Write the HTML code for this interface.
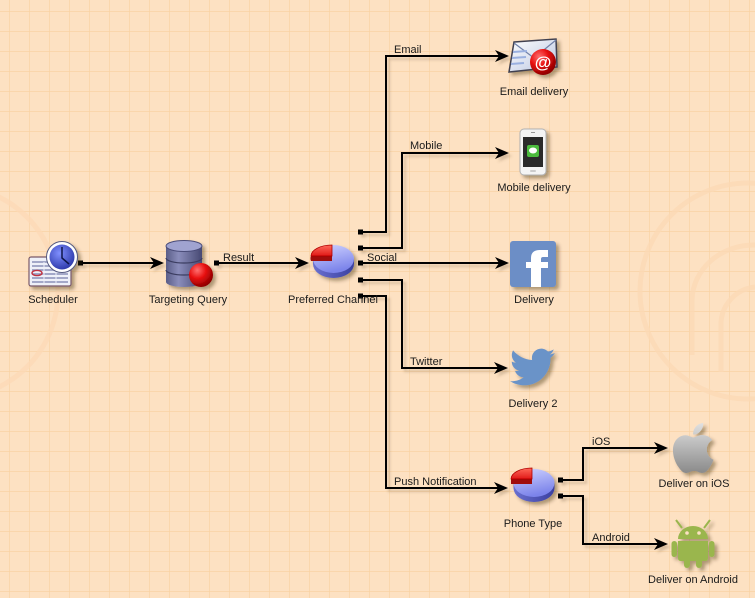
<!DOCTYPE html>
<html><head><meta charset="utf-8"><style>
html,body{margin:0;padding:0;background:#fde1c2;}
svg{display:block;}
text{font-family:"Liberation Sans",Arial,sans-serif;font-size:11px;fill:#1a1a1a;}
</style></head><body>
<svg width="755" height="598" viewBox="0 0 755 598" xmlns="http://www.w3.org/2000/svg">
<defs>
<pattern id="grid" x="9" y="11" width="20" height="20" patternUnits="userSpaceOnUse">
<path d="M0 0 H20 M0 0 V20" stroke="#f8d09f" stroke-width="1.2" fill="none"/>
</pattern>
<filter id="sh" x="-30%" y="-30%" width="160%" height="160%">
<feDropShadow dx="3" dy="3" stdDeviation="1.8" flood-color="#3a2a10" flood-opacity="0.4"/>
</filter>
<filter id="lsh" x="-10%" y="-10%" width="120%" height="120%">
<feDropShadow dx="3" dy="3" stdDeviation="1.2" flood-color="#6a5030" flood-opacity="0.25"/>
</filter>
<linearGradient id="pieTop" x1="0" y1="0" x2="0.3" y2="1"><stop offset="0" stop-color="#d0d3ff"/><stop offset="1" stop-color="#7c84ea"/></linearGradient>
<linearGradient id="pieSide" x1="0" y1="0" x2="1" y2="0"><stop offset="0" stop-color="#6a70d0"/><stop offset="1" stop-color="#3a40a0"/></linearGradient>
<linearGradient id="redTop" x1="0" y1="0" x2="0" y2="1"><stop offset="0" stop-color="#ff6a5a"/><stop offset="1" stop-color="#e01818"/></linearGradient>
<linearGradient id="cyl" x1="0" y1="0" x2="1" y2="0"><stop offset="0" stop-color="#5a5d88"/><stop offset="0.35" stop-color="#8a8dbb"/><stop offset="1" stop-color="#464872"/></linearGradient>
<radialGradient id="ball" cx="0.35" cy="0.3" r="0.7"><stop offset="0" stop-color="#ff7070"/><stop offset="0.5" stop-color="#e81010"/><stop offset="1" stop-color="#900000"/></radialGradient>
<radialGradient id="clock" cx="0.4" cy="0.35" r="0.7"><stop offset="0" stop-color="#8090ff"/><stop offset="1" stop-color="#2a36a8"/></radialGradient>
<linearGradient id="apple" x1="0" y1="0" x2="0" y2="1"><stop offset="0" stop-color="#e0e0e0"/><stop offset="1" stop-color="#8a8a8a"/></linearGradient>
<linearGradient id="env" x1="0" y1="0" x2="1" y2="1"><stop offset="0" stop-color="#ffffff"/><stop offset="1" stop-color="#b8c4e0"/></linearGradient>
</defs>
<rect width="755" height="598" fill="#fde1c2"/>
<rect width="755" height="598" fill="url(#grid)"/>

<!-- watermark -->
<g fill="none" stroke="#fcd9b5" stroke-width="5" opacity="0.7">
<circle cx="748" cy="291" r="108"/>
<path d="M692 355 V300 A62 56 0 0 1 755 245"/>
<path d="M721 372 V322 A38 38 0 0 1 755 287"/>
<circle cx="-48" cy="292" r="106"/>
</g>

<!-- connectors -->
<g filter="url(#lsh)">
<g fill="none" stroke="#000" stroke-width="2">
<path d="M81 263 H154"/>
<path d="M217 263 H299"/>
<path d="M361 232 H386 V56 H499"/>
<path d="M361 248 H402 V153 H499"/>
<path d="M361 263 H499"/>
<path d="M361 280 H402 V368 H498"/>
<path d="M361 296 H386 V488 H498"/>
<path d="M561 480 H583 V448 H658"/>
<path d="M561 496 H583 V544 H658"/>
</g>
<g fill="#000">
<polygon points="164,263 150,257 154,263 150,269"/>
<polygon points="309,263 295,257 299,263 295,269"/>
<polygon points="509,56 495,50 499,56 495,62"/>
<polygon points="509,153 495,147 499,153 495,159"/>
<polygon points="509,263 495,257 499,263 495,269"/>
<polygon points="508,368 494,362 498,368 494,374"/>
<polygon points="508,488 494,482 498,488 494,494"/>
<polygon points="668,448 654,442 658,448 654,454"/>
<polygon points="668,544 654,538 658,544 654,550"/>
<rect x="78" y="260.5" width="5" height="5"/>
<rect x="214" y="260.5" width="5" height="5"/>
<rect x="358" y="229.5" width="5" height="5"/>
<rect x="358" y="245.5" width="5" height="5"/>
<rect x="358" y="260.5" width="5" height="5"/>
<rect x="358" y="277.5" width="5" height="5"/>
<rect x="358" y="293.5" width="5" height="5"/>
<rect x="558" y="477.5" width="5" height="5"/>
<rect x="558" y="493.5" width="5" height="5"/>
</g>
</g>

<!-- Scheduler icon -->
<g filter="url(#sh)">
<rect x="29" y="257" width="42" height="29" rx="2" fill="#eef0f8" stroke="#7a5a6a" stroke-width="1.2"/>
<g stroke="#8a90b8" stroke-width="1.6">
<path d="M32 262 H52 M32 266 H52 M32 270 H68 M32 274 H68 M32 278 H68 M32 282 H68"/>
</g>
<path d="M44 262 V284 M56 268 V284" stroke="#eef0f8" stroke-width="1"/>
<ellipse cx="37" cy="273" rx="5" ry="2.6" fill="none" stroke="#c03040" stroke-width="1.4"/>
<circle cx="62" cy="257" r="15.5" fill="#ffffff" stroke="#555a80" stroke-width="1"/>
<circle cx="62" cy="257" r="12.5" fill="url(#clock)"/>
<path d="M62 247 V258 L69 264" stroke="#10144a" stroke-width="1.5" fill="none"/>
</g>

<!-- Targeting Query icon -->
<g filter="url(#sh)">
<path d="M166 246 V282 A18 5 0 0 0 202 282 V246 Z" fill="url(#cyl)"/>
<path d="M166 258 A18 5 0 0 0 202 258 M166 270 A18 5 0 0 0 202 270" stroke="#3a3c60" stroke-width="1.2" fill="none"/>
<ellipse cx="184" cy="246" rx="18" ry="5.5" fill="#a0a3d0" stroke="#4a4c78" stroke-width="1"/>
<circle cx="201" cy="275" r="12" fill="url(#ball)"/>
</g>

<!-- Preferred Channel pie -->
<g filter="url(#sh)">
<ellipse cx="333.5" cy="264" rx="20.5" ry="14" fill="url(#pieSide)"/>
<rect x="313" y="259" width="41" height="5" fill="url(#pieSide)"/>
<ellipse cx="333.5" cy="259" rx="20.5" ry="14" fill="url(#pieTop)"/>
<path d="M311 256 V261 L332 261 V256 Z" fill="#a00808"/>
<path d="M311 256 A21 11 0 0 0 311 261 Z" fill="#a00808"/>
<path d="M332 256 L311 256 A21 11 0 0 1 332 245 Z" fill="url(#redTop)" stroke="#b00000" stroke-width="0.8"/>
</g>

<!-- Phone Type pie -->
<g filter="url(#sh)">
<ellipse cx="534" cy="488" rx="20.5" ry="14" fill="url(#pieSide)"/>
<rect x="513.5" y="483" width="41" height="5" fill="url(#pieSide)"/>
<ellipse cx="534" cy="483" rx="20.5" ry="14" fill="url(#pieTop)"/>
<path d="M511 479 V484 L532 484 V479 Z" fill="#a00808"/>
<path d="M532 479 L511 479 A21 11 0 0 1 532 468 Z" fill="url(#redTop)" stroke="#b00000" stroke-width="0.8"/>
</g>

<!-- Email icon -->
<g filter="url(#sh)">
<polygon points="514,42 556,39 557,67 509,72" fill="url(#env)" stroke="#404050" stroke-width="1.5"/>
<path d="M514 43 L534 58 L556 40" stroke="#7080a8" stroke-width="1.2" fill="none"/>
<path d="M513 52 L527 51 M512 58 L526 57 M511 64 L524 63" stroke="#9ab0e0" stroke-width="2"/>
<circle cx="543" cy="62" r="13" fill="url(#ball)"/>
<text x="543" y="68" text-anchor="middle" style="font-size:17px;font-weight:bold;fill:#fff">@</text>
</g>

<!-- Mobile icon -->
<g filter="url(#sh)">
<rect x="520" y="129" width="26" height="46" rx="4" fill="#f4f4f4" stroke="#b0b0b0" stroke-width="1"/>
<rect x="523" y="137" width="20" height="30" fill="#2a2a2a"/>
<rect x="527" y="145" width="12" height="12" rx="2" fill="#4cbb3c"/>
<ellipse cx="533" cy="150.5" rx="4" ry="3" fill="#fff"/>
<rect x="531" y="132" width="4" height="1" fill="#999"/>
<rect x="530" y="170" width="6" height="2" rx="1" fill="#ccc"/>
</g>

<!-- Facebook icon -->
<g filter="url(#sh)">
<rect x="510" y="241" width="46" height="46" rx="3" fill="#6c8ec6"/>
<path d="M531 287 V258 Q531 250 540 250 H548 V257 H543 Q541 257 541 259 V287 Z" fill="#fff"/>
<rect x="526" y="262" width="22" height="6" fill="#fff"/>
</g>

<!-- Twitter icon -->
<g filter="url(#sh)">
<path transform="translate(510,344.4) scale(1.88)" fill="#6b93c8" d="M23.954 4.569c-.885.389-1.83.654-2.825.775 1.014-.611 1.794-1.574 2.163-2.723-.951.555-2.005.959-3.127 1.184-.896-.959-2.173-1.559-3.591-1.559-2.717 0-4.920 2.203-4.920 4.917 0 .39.045.765.127 1.124C7.691 8.094 4.066 6.13 1.64 3.161c-.427.722-.666 1.561-.666 2.475 0 1.71.87 3.213 2.188 4.096-.807-.026-1.566-.248-2.228-.616v.061c0 2.385 1.693 4.374 3.946 4.827-.413.111-.849.171-1.296.171-.314 0-.615-.03-.916-.086.631 1.953 2.445 3.377 4.604 3.417-1.680 1.319-3.809 2.105-6.102 2.105-.39 0-.779-.023-1.17-.067 2.189 1.394 4.768 2.209 7.557 2.209 9.054 0 13.999-7.496 13.999-13.986 0-.209 0-.42-.015-.63.961-.689 1.8-1.65 2.46-2.690z"/>
</g>

<!-- Apple icon -->
<g filter="url(#sh)">
<path transform="translate(663.3,418) scale(2.5)" fill="url(#apple)" d="M18.71 19.5c-.83 1.24-1.71 2.45-3.05 2.47-1.34.03-1.77-.79-3.29-.79-1.53 0-2 .77-3.27.82-1.31.05-2.3-1.32-3.14-2.53C4.250 17 2.94 12.45 4.7 9.39c.87-1.52 2.43-2.48 4.120-2.51 1.28-.02 2.5.87 3.29.87.78 0 2.26-1.07 3.81-.91.65.03 2.47.26 3.64 1.98-.09.06-2.17 1.28-2.15 3.81.03 3.02 2.65 4.03 2.68 4.04-.03.07-.42 1.44-1.38 2.83M13 3.5c.73-.83 1.94-1.46 2.94-1.5.13 1.17-.34 2.35-1.04 3.19-.69.85-1.830 1.51-2.95 1.42-.15-1.15.41-2.35 1.05-3.11z"/>
</g>

<!-- Android icon -->
<g filter="url(#sh)" fill="#9ab64e">
<path d="M678 539 A15 13 0 0 1 708 539 Z"/>
<path d="M682 528 L676 520 M704 528 L710 520" stroke="#9ab64e" stroke-width="2"/>
<circle cx="687" cy="533" r="1.8" fill="#fde1c2"/>
<circle cx="699" cy="533" r="1.8" fill="#fde1c2"/>
<path d="M678 541 H708 V558 Q708 561 705 561 H681 Q678 561 678 558 Z"/>
<rect x="671.5" y="541" width="5.5" height="16" rx="2.7"/>
<rect x="709" y="541" width="5.5" height="16" rx="2.7"/>
<rect x="684" y="556" width="6" height="12" rx="3"/>
<rect x="696" y="556" width="6" height="12" rx="3"/>
</g>

<!-- node labels -->
<g text-anchor="middle">
<text x="53" y="303">Scheduler</text>
<text x="188" y="303">Targeting Query</text>
<text x="333" y="303">Preferred Channel</text>
<text x="534" y="95">Email delivery</text>
<text x="534" y="191">Mobile delivery</text>
<text x="534" y="303">Delivery</text>
<text x="533" y="407">Delivery 2</text>
<text x="533" y="527">Phone Type</text>
<text x="694" y="487">Deliver on iOS</text>
<text x="693" y="583">Deliver on Android</text>
</g>

<!-- edge labels -->
<text x="223" y="261">Result</text>
<text x="394" y="53">Email</text>
<text x="410" y="149">Mobile</text>
<text x="367" y="261">Social</text>
<text x="410" y="365">Twitter</text>
<text x="394" y="485">Push Notification</text>
<text x="592" y="445">iOS</text>
<text x="592" y="541">Android</text>
</svg>
</body></html>
